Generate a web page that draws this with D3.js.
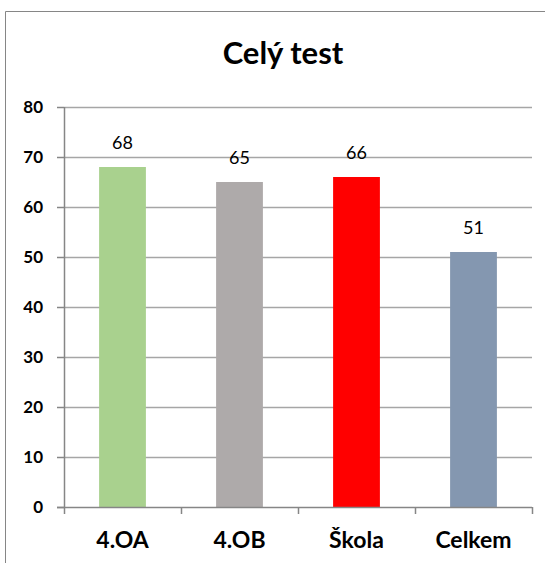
<!DOCTYPE html>
<html>
<head>
<meta charset="utf-8">
<script src="https://cdn.jsdelivr.net/npm/d3@7"></script>
<style>
  body { margin: 0; background: #fff; }
  svg { display: block; font-family: Lato, "Open Sans", sans-serif; }
</style>
</head>
<body>
<div id="chart"></div>
<script>
const categories = ["4.OA", "4.OB", "Škola", "Celkem"];
const values = [68, 65, 66, 51];
const colors = ["#a9d18e", "#aeaaaa", "#ff0000", "#8497b0"];
const yTicks = [0, 10, 20, 30, 40, 50, 60, 70, 80];

const width = 545, height = 563;
const margin = { top: 107, right: 13, bottom: 56, left: 64 };

const svg = d3.select("#chart").append("svg")
  .attr("width", width)
  .attr("height", height);

// frame
svg.append("path")
  .attr("d", `M5.5,${height} V11.5 H${width}`)
  .attr("fill", "none")
  .attr("stroke", "#868686")
  .attr("stroke-width", 1);

svg.append("text")
  .attr("x", 283)
  .attr("y", 64)
  .attr("text-anchor", "middle")
  .attr("font-size", 31)
  .attr("font-weight", "bold")
  .text("Celý test");

const x = d3.scaleBand()
  .domain(categories)
  .range([margin.left, width - margin.right])
  .paddingInner(0.6)
  .paddingOuter(0.3);

const y = d3.scaleLinear()
  .domain([0, 80])
  .range([height - margin.bottom, margin.top]);

// gridlines
svg.append("g")
  .selectAll("line")
  .data(yTicks.slice(1))
  .join("line")
  .attr("x1", margin.left)
  .attr("x2", width - margin.right)
  .attr("y1", d => Math.round(y(d)) + 0.5)
  .attr("y2", d => Math.round(y(d)) + 0.5)
  .attr("stroke", "#a6a6a6")
  .attr("stroke-width", 1.5);

// bars
svg.append("g")
  .selectAll("rect")
  .data(values)
  .join("rect")
  .attr("x", (d, i) => x(categories[i]))
  .attr("y", d => y(d))
  .attr("width", x.bandwidth())
  .attr("height", d => y(0) - y(d))
  .attr("fill", (d, i) => colors[i]);

// value labels
svg.append("g")
  .selectAll("text")
  .data(values)
  .join("text")
  .attr("x", (d, i) => x(categories[i]) + x.bandwidth() / 2)
  .attr("y", d => y(d) - 18)
  .attr("text-anchor", "middle")
  .attr("font-size", 18)
  .attr("fill", "#000")
  .text(d => d);

// y axis
const yAxis = svg.append("g")
  .attr("transform", `translate(${margin.left},0)`)
  .call(d3.axisLeft(y).tickValues(yTicks).tickSize(7).tickPadding(14));
yAxis.select(".domain").attr("stroke", "#868686").attr("stroke-width", 1.5)
  .attr("d", `M0.5,${y(0)}V${y(80)}`);
yAxis.selectAll(".tick line").attr("stroke", "#868686").attr("stroke-width", 1.5);
yAxis.selectAll(".tick text")
  .attr("font-family", "Lato, sans-serif")
  .attr("font-size", 17)
  .attr("font-weight", "bold")
  .attr("fill", "#000");

// x axis
const xAxisG = svg.append("g")
  .attr("transform", `translate(0,${y(0)})`);
xAxisG.append("line")
  .attr("x1", margin.left - 7)
  .attr("x2", width - margin.right)
  .attr("y1", 0.5).attr("y2", 0.5)
  .attr("stroke", "#868686")
  .attr("stroke-width", 1.5);
const xEdges = categories.map(c => x(c) - x.step() * x.paddingInner() / 2).concat([width - margin.right]);
xEdges[0] = margin.left;
xAxisG.selectAll("line.tk")
  .data(xEdges)
  .join("line")
  .attr("class", "tk")
  .attr("x1", d => Math.round(d) + 0.5)
  .attr("x2", d => Math.round(d) + 0.5)
  .attr("y1", 0).attr("y2", 7)
  .attr("stroke", "#868686")
  .attr("stroke-width", 1.5);
xAxisG.selectAll("text")
  .data(categories)
  .join("text")
  .attr("x", d => x(d) + x.bandwidth() / 2)
  .attr("y", 41)
  .attr("text-anchor", "middle")
  .attr("font-size", 23)
  .attr("font-weight", "bold")
  .text(d => d);
</script>
</body>
</html>
